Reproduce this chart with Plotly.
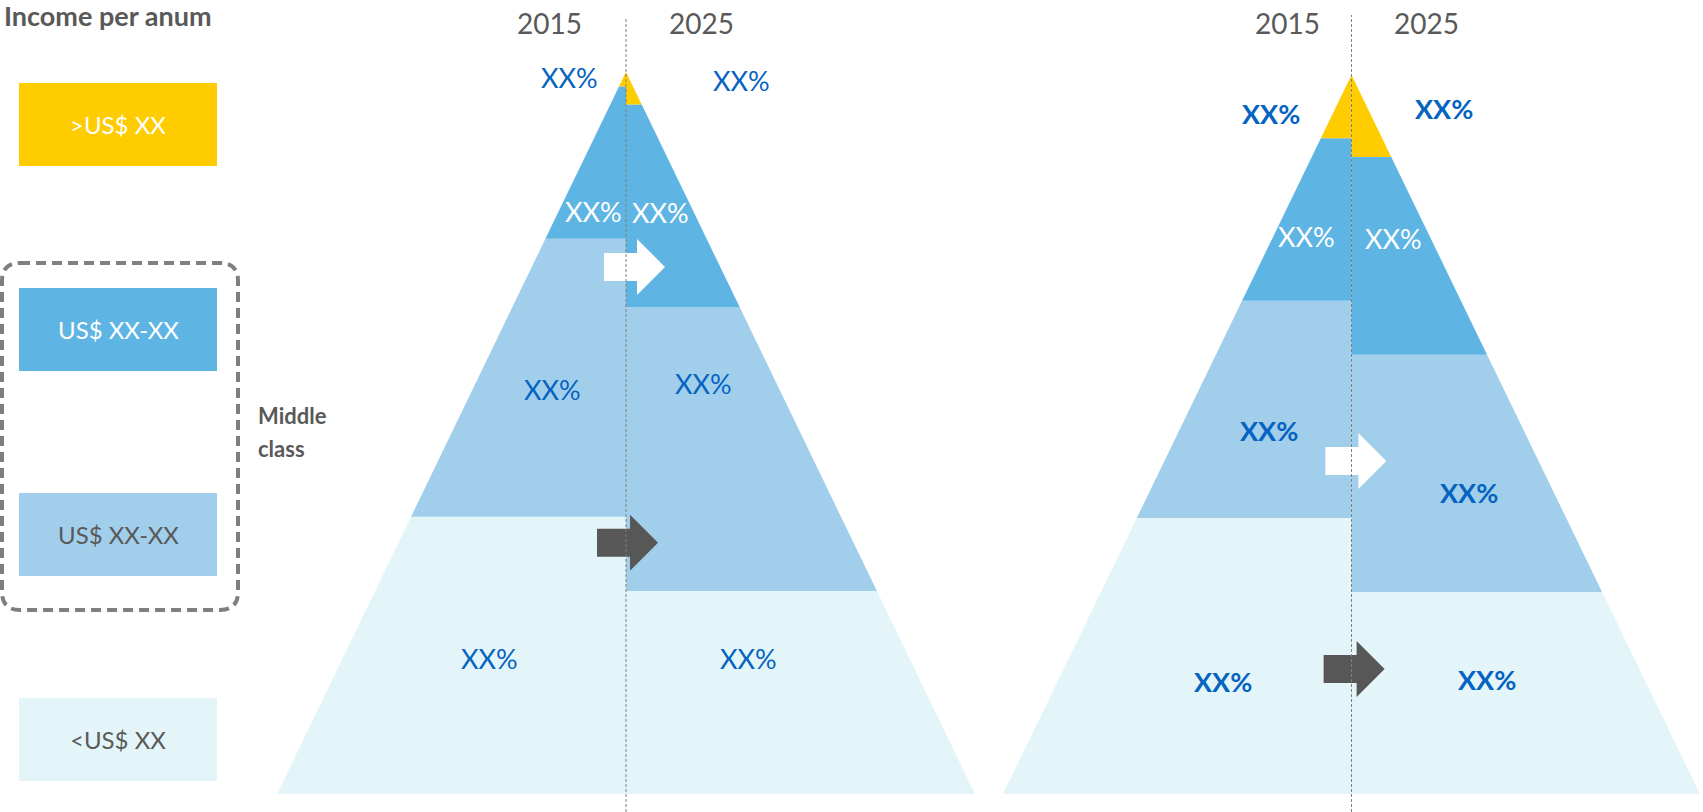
import plotly.graph_objects as go

# ---------------------------------------------------------------- data
income_bands = [">US$ XX", "US$ XX-XX", "US$ XX-XX", "<US$ XX"]   # top band first
years = ["2015", "2025"]

# thickness of each band, % of pyramid height, top band first
pyr_a_2015 = [2.0, 21.1, 38.5, 38.4]
pyr_a_2025 = [4.5, 28.1, 39.3, 28.1]
pyr_b_2015 = [8.8, 22.6, 30.2, 38.4]
pyr_b_2025 = [11.4, 27.5, 33.0, 28.1]

# text shown on each band (2015 half, 2025 half), top band first
labels_a = [["XX%", "XX%"], ["XX%", "XX%"], ["XX%", "XX%"], ["XX%", "XX%"]]
labels_b = [["XX%", "XX%"], ["XX%", "XX%"], ["XX%", "XX%"], ["XX%", "XX%"]]

# ---------------------------------------------------------------- styles
band_colors = ["#FFCC00", "#5EB5E3", "#A1CFEB", "#E3F5F8"]
band_text = ["#FFFFFF", "#FFFFFF", "#595959", "#595959"]
label_colors = ["#0563C1", "#FFFFFF", "#0563C1", "#0563C1"]
GREY = "#595959"
FONT = "Lato, 'Open Sans', sans-serif"
W, H = 1703, 812

# label anchor points (axis units) per band: (x2015, y2015, x2025, y2025)
label_pos_a = [(-0.163, 99.2, 0.330, 98.8), (-0.092, 80.7, 0.100, 80.5),
               (-0.212, 56.0, 0.223, 56.8), (-0.390, 18.8, 0.350, 18.8)]
label_pos_b = [(-0.232, 94.7, 0.264, 95.3), (-0.129, 77.5, 0.121, 77.2),
               (-0.238, 50.5, 0.336, 41.9), (-0.370, 15.7, 0.390, 15.9)]

# arrow tails (axis units): (x, y, colour)
arrows_a = [(-0.063, 73.0, "#FFFFFF"), (-0.083, 34.8, "#575757")]
arrows_b = [(-0.075, 46.3, "#FFFFFF"), (-0.080, 17.4, "#575757")]

fig = go.Figure()


def add_half(shares, side, xa, ya):
    """Stack the bands of one half pyramid, bottom band first."""
    bottom = 0.0
    for idx in range(len(shares) - 1, -1, -1):
        top = bottom + shares[idx]
        fig.add_trace(go.Scatter(
            x=[0, side * (1 - bottom / 100), side * (1 - top / 100), 0, 0],
            y=[bottom, bottom, top, top, bottom],
            mode="lines", fill="toself", fillcolor=band_colors[idx],
            line=dict(width=0), hoverinfo="skip", showlegend=False,
            xaxis=xa, yaxis=ya))
        bottom = top


def add_pyramid(s2015, s2025, labels, pos, arrows, xa, ya, bold, line_top, year_x):
    add_half(s2015, -1, xa, ya)
    add_half(s2025, 1, xa, ya)
    xref, yref = xa, ya
    for i in range(len(income_bands)):
        x15, y15, x25, y25 = pos[i]
        weight = "bold" if (bold and label_colors[i] != "#FFFFFF") else "normal"
        for txt, x, y in ((labels[i][0], x15, y15), (labels[i][1], x25, y25)):
            fig.add_annotation(x=x, y=y, xref=xref, yref=yref, text=txt,
                               showarrow=False, xanchor="center", yanchor="middle",
                               font=dict(family=FONT, size=27, color=label_colors[i],
                                         weight=weight))
    for ax, ay, col in arrows:
        fig.add_shape(type="path", xref=xref, yref=yref,
                      xsizemode="pixel", ysizemode="pixel",
                      xanchor=ax, yanchor=ay,
                      path="M0,-14 L33,-14 L33,-28 L61,0 L33,28 L33,14 L0,14 Z",
                      fillcolor=col, line=dict(width=0), layer="above")
    fig.add_shape(type="line", xref=xref, yref="paper", x0=0, x1=0, y0=0, y1=line_top,
                  line=dict(color="#7F7F7F", width=1, dash="3px,2px"), layer="above")
    for yr, x in zip(years, year_x):
        fig.add_annotation(x=x, y=1 - 23 / H, xref=xref, yref="paper", text=yr,
                           showarrow=False, xanchor="center", yanchor="middle",
                           font=dict(family=FONT, size=28, color=GREY))


add_pyramid(pyr_a_2015, pyr_a_2025, labels_a, label_pos_a, arrows_a,
            "x", "y", False, 1 - 18 / H, (-0.22, 0.217))
add_pyramid(pyr_b_2015, pyr_b_2025, labels_b, label_pos_b, arrows_b,
            "x2", "y2", True, 1 - 15 / H, (-0.184, 0.216))

# ---------------------------------------------------------------- legend panel (pixel axis)
box_tops = [83, 288, 493, 698]
for name, top, col, tcol in zip(income_bands, box_tops, band_colors, band_text):
    fig.add_shape(type="rect", xref="x3", yref="y3", x0=19, x1=217, y0=top, y1=top + 83,
                  fillcolor=col, line=dict(width=0), layer="below")
    fig.add_annotation(x=118, y=top + 41.5, xref="x3", yref="y3", text=name,
                       showarrow=False, xanchor="center", yanchor="middle",
                       font=dict(family=FONT, size=24, color=tcol))

# dashed rounded frame around the middle-class bands
x0, x1, y0, y1, r = 2, 238, 263, 610, 18
frame = (f"M{x0 + r},{y0} L{x1 - r},{y0} Q{x1},{y0} {x1},{y0 + r} "
         f"L{x1},{y1 - r} Q{x1},{y1} {x1 - r},{y1} "
         f"L{x0 + r},{y1} Q{x0},{y1} {x0},{y1 - r} "
         f"L{x0},{y0 + r} Q{x0},{y0} {x0 + r},{y0} Z")
fig.add_shape(type="path", xref="x3", yref="y3", path=frame,
              line=dict(color="#7F7F7F", width=4, dash="10px,6px"))

fig.add_annotation(x=2, y=15, xref="x3", yref="y3", text="Income per anum",
                   showarrow=False, xanchor="left", yanchor="middle",
                   font=dict(family=FONT, size=27, color=GREY, weight="bold"))
fig.add_annotation(x=256, y=415, xref="x3", yref="y3", text="Middle",
                   showarrow=False, xanchor="left", yanchor="middle",
                   font=dict(family=FONT, size=22, color=GREY, weight="bold"))
fig.add_annotation(x=256, y=448, xref="x3", yref="y3", text="class",
                   showarrow=False, xanchor="left", yanchor="middle",
                   font=dict(family=FONT, size=22, color=GREY, weight="bold"))

hidden = dict(visible=False, showgrid=False, zeroline=False, fixedrange=True)
fig.update_layout(
    width=W, height=H, margin=dict(l=0, r=0, t=0, b=0),
    paper_bgcolor="white", plot_bgcolor="rgba(0,0,0,0)", showlegend=False,
    xaxis=dict(domain=[277 / W, 975 / W], range=[-1, 1], anchor="y", **hidden),
    yaxis=dict(domain=[18 / H, 740 / H], range=[0, 100], anchor="x", **hidden),
    xaxis2=dict(domain=[1003 / W, 1700 / W], range=[-1, 1], anchor="y2", **hidden),
    yaxis2=dict(domain=[18 / H, 737 / H], range=[0, 100], anchor="x2", **hidden),
    xaxis3=dict(domain=[0, 1], range=[0, W], anchor="y3", **hidden),
    yaxis3=dict(domain=[0, 1], range=[H, 0], anchor="x3", **hidden),
)

fig.write_html("out.html", config={"displayModeBar": False})
